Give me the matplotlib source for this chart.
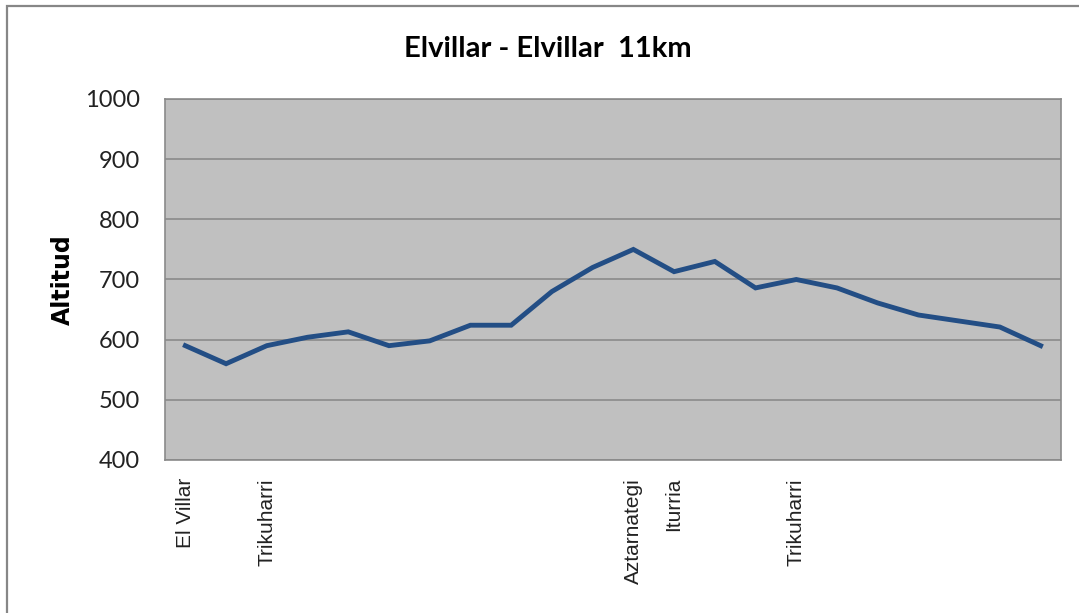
import matplotlib
matplotlib.use("Agg")
import matplotlib.pyplot as plt
from matplotlib.patches import Rectangle

# perfil de altitud, un punto por cada tramo
altitudes = [590, 560, 590, 604, 613, 590, 598, 624, 624, 680, 720,
             750, 713, 730, 686, 700, 686, 661, 641, 631, 621, 590]
etiquetas = ["El Villar", "", "Trikuharri", "", "", "", "", "", "", "", "",
             "Aztarnategi", "Iturria", "", "", "Trikuharri", "", "", "", "", "", ""]
ticks_y = [400, 500, 600, 700, 800, 900, 1000]

fig = plt.figure(figsize=(10.79, 6.13), dpi=100)
ax = fig.add_axes([0.1529, 0.2496, 0.8304, 0.5889])

# marco exterior del grafico
fig.patches.append(Rectangle((7 / 1079, -0.05), 1.1, 1 - 6 / 613 + 0.05,
                             transform=fig.transFigure, fill=False,
                             edgecolor="#878787", linewidth=1.6))

x = list(range(len(altitudes)))
ax.set_facecolor("#c0c0c0")
ax.plot(x, altitudes, color="#234e85", linewidth=3.5, solid_joinstyle="miter")

ax.set_xlim(-0.5, len(altitudes) - 0.5)
ax.set_ylim(400, 1000)
ax.set_yticks(ticks_y)
ax.yaxis.grid(True, color="#8a8a8a", linewidth=1.2)
ax.set_axisbelow(True)

ax.set_xticks(x)
ax.set_xticklabels(etiquetas, rotation=90, fontsize=15, family="Liberation Sans",
                   color="#222222")
ax.tick_params(axis="x", length=0, pad=13)
ax.tick_params(axis="y", length=0, pad=18)
for t in ax.get_yticklabels():
    t.set_fontfamily("Lato")
    t.set_fontsize(17)
    t.set_color("#222222")

for lado in ["left", "bottom", "right", "top"]:
    ax.spines[lado].set_color("#8a8a8a")
    ax.spines[lado].set_linewidth(1.2)

ax.set_ylabel("Altitud", fontsize=17, fontweight="bold", family="DejaVu Sans")
ax.yaxis.set_label_coords(-0.101, 0.5)

fig.text(0.508, 0.92, "Elvillar - Elvillar  11km", ha="center", va="center",
         fontsize=21, fontweight="bold", family="Lato")

fig.savefig("out.png", dpi=100, facecolor="white")
